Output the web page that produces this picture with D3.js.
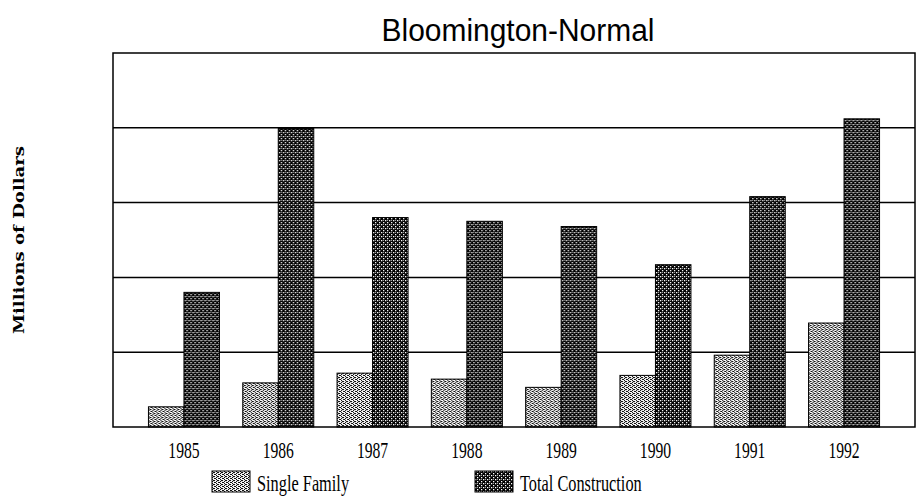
<!DOCTYPE html>
<html lang="en">
<head>
    <meta charset="UTF-8">
    <title>Bloomington-Normal</title>
    <script src="https://d3js.org/d3.v7.min.js"></script>
    <style>
        body {
            margin: 0;
            background-color: #ffffff;
        }
        svg {
            display: block;
        }
    </style>
</head>
<body>

    <svg width="918" height="500"></svg>

    <script>
        // Data (units = one gridline step)
        var years = ["1985", "1986", "1987", "1988", "1989", "1990", "1991", "1992"];
        var series = ["Single Family", "Total Construction"];
        var singleFamily = [2.7, 5.9, 7.2, 6.4, 5.3, 6.9, 9.6, 13.9];
        var totalConstruction = [18.0, 39.9, 28.0, 27.5, 26.8, 21.7, 30.8, 41.2];
        var gridTicks = [10, 20, 30, 40];

        var width = 918;
        var height = 500;
        var margin = {top: 53, right: 3, bottom: 73, left: 113};

        var svg = d3.select("svg")
                    .attr("width", width)
                    .attr("height", height);

        // Halftone-like fill patterns
        var defs = svg.append("defs");

        var light = defs.append("pattern")
            .attr("id", "light")
            .attr("patternUnits", "userSpaceOnUse")
            .attr("width", 4)
            .attr("height", 4);
        light.append("rect").attr("width", 4).attr("height", 4).attr("fill", "#fff");
        [[0, 0], [2, 1], [0, 2], [2, 3], [1, 1], [3, 3]].forEach(function(p) {
            light.append("rect")
                .attr("x", p[0]).attr("y", p[1])
                .attr("width", 1.1).attr("height", 1.1)
                .attr("fill", "#111");
        });

        var dark = defs.append("pattern")
            .attr("id", "dark")
            .attr("patternUnits", "userSpaceOnUse")
            .attr("width", 4)
            .attr("height", 4);
        dark.append("rect").attr("width", 4).attr("height", 4).attr("fill", "#000");
        [[0, 0], [2, 2]].forEach(function(p) {
            dark.append("rect")
                .attr("x", p[0]).attr("y", p[1])
                .attr("width", 1.3).attr("height", 1.3)
                .attr("fill", "#fff");
        });
        [[2, 0]].forEach(function(p) {
            dark.append("rect")
                .attr("x", p[0]).attr("y", p[1])
                .attr("width", 1).attr("height", 1)
                .attr("fill", "#999");
        });

        var fills = {"Single Family": "url(#light)", "Total Construction": "url(#dark)"};

        // Scales
        var x0 = d3.scaleBand()
                   .domain(years)
                   .range([margin.left, width - margin.right])
                   .paddingInner(0.247)
                   .paddingOuter(0.376);

        var x1 = d3.scaleBand()
                   .domain(series)
                   .range([0, x0.bandwidth()]);

        var y = d3.scaleLinear()
                  .domain([0, 50])
                  .range([height - margin.bottom, margin.top]);

        // Gridlines
        svg.append("g")
            .selectAll("line")
            .data(gridTicks)
            .enter()
            .append("line")
            .attr("x1", margin.left)
            .attr("x2", width - margin.right)
            .attr("y1", function(d) { return y(d); })
            .attr("y2", function(d) { return y(d); })
            .attr("stroke", "#000")
            .attr("stroke-width", 1.5);

        // Bars
        var groups = svg.selectAll("g.year")
            .data(years)
            .enter()
            .append("g")
            .attr("class", "year")
            .attr("transform", function(d) { return "translate(" + x0(d) + ",0)"; });

        groups.selectAll("rect")
            .data(function(d, i) {
                return [
                    {key: "Single Family", value: singleFamily[i]},
                    {key: "Total Construction", value: totalConstruction[i]}
                ];
            })
            .enter()
            .append("rect")
            .attr("x", function(d) { return x1(d.key); })
            .attr("y", function(d) { return y(d.value); })
            .attr("width", x1.bandwidth())
            .attr("height", function(d) { return y(0) - y(d.value); })
            .attr("fill", function(d) { return fills[d.key]; })
            .attr("stroke", "#000")
            .attr("stroke-width", 1);

        // Plot frame
        svg.append("rect")
            .attr("x", margin.left)
            .attr("y", margin.top)
            .attr("width", width - margin.left - margin.right)
            .attr("height", height - margin.top - margin.bottom)
            .attr("fill", "none")
            .attr("stroke", "#000")
            .attr("stroke-width", 1.5);

        // X axis labels
        var xAxis = svg.append("g")
            .attr("transform", "translate(0," + (height - margin.bottom) + ")")
            .call(d3.axisBottom(x0).tickSize(0).tickPadding(0));
        xAxis.select(".domain").remove();
        xAxis.selectAll("text")
            .attr("y", 31)
            .attr("dy", null)
            .attr("font-family", "'Liberation Serif', serif")
            .attr("font-size", 23)
            .attr("fill", "#000")
            .attr("transform", "scale(0.68,1)");

        // Title
        svg.append("text")
            .attr("x", 518)
            .attr("y", 41)
            .attr("text-anchor", "middle")
            .attr("font-family", "'Liberation Sans', Arial, sans-serif")
            .attr("font-size", 31)
            .attr("textLength", 273)
            .attr("lengthAdjust", "spacingAndGlyphs")
            .text("Bloomington-Normal");

        // Y axis title
        svg.append("text")
            .attr("transform", "translate(24," + ((margin.top + height - margin.bottom) / 2) + ") rotate(-90)")
            .attr("text-anchor", "middle")
            .attr("font-family", "'DejaVu Serif', serif")
            .attr("font-weight", "bold")
            .attr("font-size", 14)
            .attr("textLength", 188)
            .attr("lengthAdjust", "spacingAndGlyphs")
            .text("Millions of Dollars");

        // Legend
        var legendPos = [212, 475];
        var legend = svg.selectAll("g.legend")
            .data(series)
            .enter()
            .append("g")
            .attr("class", "legend")
            .attr("transform", function(d, i) { return "translate(" + legendPos[i] + ",471)"; });

        legend.append("rect")
            .attr("width", 38)
            .attr("height", 21)
            .attr("fill", function(d) { return fills[d]; })
            .attr("stroke", "#000")
            .attr("stroke-width", 1);

        legend.append("text")
            .attr("transform", "translate(45,20) scale(0.71,1)")
            .attr("font-family", "'Liberation Serif', serif")
            .attr("font-size", 23)
            .text(function(d) { return d; });
    </script>

</body>
</html>
